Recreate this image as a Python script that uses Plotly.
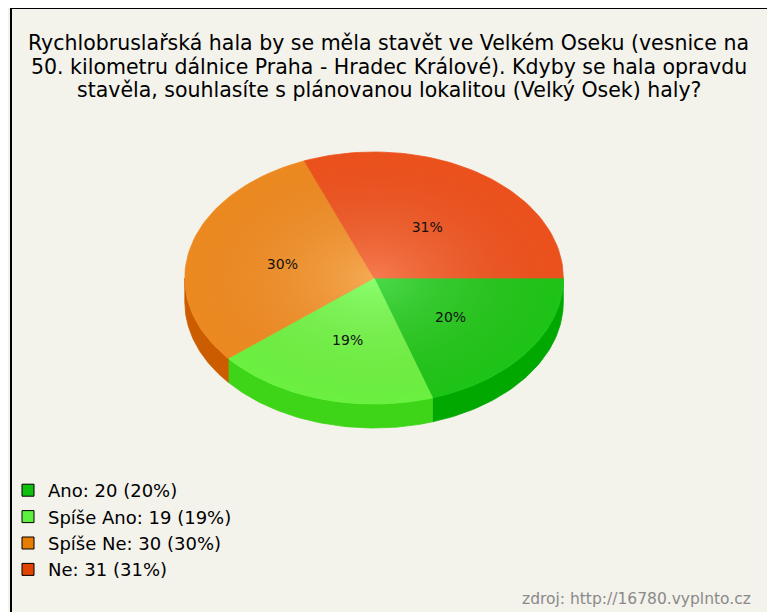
import math
import plotly.graph_objects as go

# data
labels = ['Ano', 'Spíše Ano', 'Spíše Ne', 'Ne']
counts = [20, 19, 30, 31]
top_colors = ['#18d018', '#6aff44', '#f39222', '#f2561e']
side_colors = ['#00a800', '#3ed418', '#cc5c00', '#c04000']
legend_colors = ['#10c010', '#5ef040', '#e67c00', '#e04400']

title_lines = [
    'Rychlobruslařská hala by se měla stavět ve Velkém Oseku (vesnice na',
    '50. kilometru dálnice Praha - Hradec Králové). Kdyby se hala opravdu',
    'stavěla, souhlasíte s plánovanou lokalitou (Velký Osek) haly?',
]
source = 'zdroj: http://16780.vyplnto.cz'

W, H = 759, 604
BG = '#f3f2eb'
FONT = 'DejaVu Sans, Verdana, sans-serif'

# pie geometry (pixels of the figure)
cx, cy, rx, ry, depth = 364.5, 270, 190, 126, 24

total = sum(counts)
pcts = [round(100 * c / total) for c in counts]


def arc(a1, a2, yoff=0, n=60):
    pts = []
    for i in range(n + 1):
        a = math.radians(a1 + (a2 - a1) * i / n)
        pts.append((cx + rx * math.cos(a), cy + yoff + ry * math.sin(a)))
    return pts


fig = go.Figure()

bounds = []
acc = 0
for c in counts:
    a1 = acc / total * 360
    acc += c
    bounds.append((a1, acc / total * 360))

# side faces (front half only)
for (a1, a2), col in zip(bounds, side_colors):
    s1, s2 = max(a1, 0), min(a2, 180)
    if s2 <= s1:
        continue
    pts = arc(s1, s2) + arc(s2, s1, depth)
    fig.add_trace(go.Scatter(
        x=[p[0] for p in pts] + [pts[0][0]], y=[p[1] for p in pts] + [pts[0][1]],
        mode='lines', fill='toself', fillcolor=col, line=dict(width=0.8, color=col),
        hoverinfo='skip', showlegend=False))

# top faces
for (a1, a2), col in zip(bounds, top_colors):
    pts = [(cx, cy)] + arc(a1, a2) + [(cx, cy)]
    fig.add_trace(go.Scatter(
        x=[p[0] for p in pts], y=[p[1] for p in pts],
        mode='lines', fill='toself', fillcolor=col, line=dict(width=0.8, color=col),
        hoverinfo='skip', showlegend=False))

# soft shading over the top face
pts = arc(0, 360, n=180)
fig.add_trace(go.Scatter(
    x=[p[0] for p in pts], y=[p[1] for p in pts], mode='lines', fill='toself',
    line=dict(width=0),
    fillgradient=dict(type='radial', colorscale=[[0, 'rgba(255,255,255,0.22)'],
                                                 [1, 'rgba(120,0,0,0.06)']]),
    hoverinfo='skip', showlegend=False))

# percent labels
tx, ty = [], []
for a1, a2 in bounds:
    m = math.radians((a1 + a2) / 2)
    tx.append(cx + 0.5 * rx * math.cos(m))
    ty.append(cy + 0.5 * ry * math.sin(m) + 3)
fig.add_trace(go.Scatter(
    x=tx, y=ty, mode='text', text=[f'{p}%' for p in pcts],
    textfont=dict(family=FONT, size=14, color='#111'),
    hoverinfo='skip', showlegend=False))

# legend entries
for lab, c, p, col in zip(labels, counts, pcts, legend_colors):
    fig.add_trace(go.Scatter(
        x=[None], y=[None], mode='markers', name=f'{lab}: {c} ({p}%)',
        marker=dict(symbol='square', size=12, color=col, line=dict(color='black', width=1))))

# title, one annotation per line
for i, line in enumerate(title_lines):
    fig.add_annotation(text=line, x=379, y=35 + 23.5 * i, xref='x', yref='y',
                       xanchor='center', yanchor='middle', showarrow=False,
                       font=dict(family=FONT, size=20.5, color='black'))

fig.add_annotation(text=source, x=745, y=591, xref='x', yref='y',
                   xanchor='right', yanchor='middle', showarrow=False,
                   font=dict(family=FONT, size=15.5, color='#8a8a8a'))

fig.update_layout(
    width=W, height=H,
    margin=dict(l=0, r=0, t=0, b=0),
    paper_bgcolor=BG, plot_bgcolor=BG,
    xaxis=dict(range=[0, W], visible=False, fixedrange=True),
    yaxis=dict(range=[H, 0], visible=False, fixedrange=True),
    legend=dict(x=-3 / W, y=1 - 464 / H, xanchor='left', yanchor='top',
                bgcolor='rgba(0,0,0,0)', tracegroupgap=0,
                font=dict(family=FONT, size=18, color='black')),
    # frame only on the left and top, the rest runs off the page
    shapes=[
        dict(type='line', xref='paper', yref='paper', x0=0, y0=0, x1=0, y1=1,
             line=dict(color='black', width=2), layer='above'),
        dict(type='line', xref='paper', yref='paper', x0=0, y0=1, x1=1, y1=1,
             line=dict(color='black', width=2), layer='above'),
    ],
)

# page margin only on the top and left, so the figure fills the window
fig.write_html('out.html', post_script=(
    "document.body.style.margin='8px 0 0 8px';"
    "document.body.style.overflow='hidden';"
    "document.documentElement.style.overflow='hidden';"))
